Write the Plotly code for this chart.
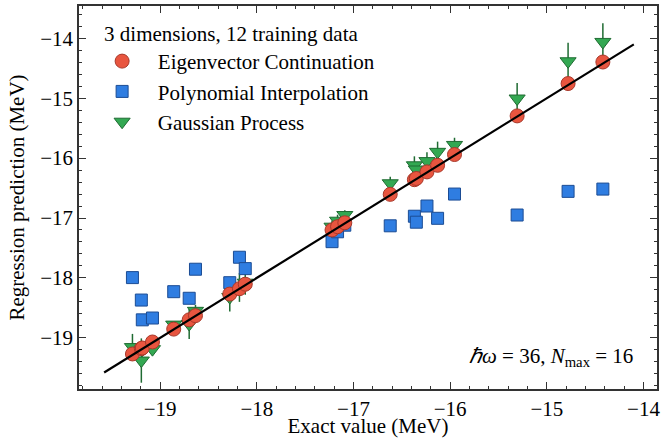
import plotly.graph_objects as go

# ---- data ----
exact = [-19.287, -19.195, -19.185, -19.08, -18.86, -18.70, -18.635, -18.28, -18.18, -18.12,
         -17.222, -17.165, -17.09, -16.62, -16.37, -16.35, -16.24, -16.13, -15.955,
         -15.307, -14.78, -14.42]
ec_pred = [-19.27, -19.18, -19.17, -19.07, -18.855, -18.70, -18.63, -18.27, -18.18, -18.105,
           -17.20, -17.145, -17.08, -16.605, -16.36, -16.34, -16.23, -16.12, -15.94,
           -15.295, -14.755, -14.395]
pi_pred = [-17.995, -18.37, -18.70, -18.67, -18.23, -18.34, -17.855, -18.08, -17.655, -17.845,
           -17.395, -17.23, -17.12, -17.13, -16.97, -17.07, -16.80, -17.005, -16.60,
           -16.95, -16.555, -16.517]
gp_pred = [-19.155, -19.38, -19.20, -19.19, -18.78, -18.77, -18.55, -18.32, -18.16, -18.08,
           -17.145, -17.045, -16.95, -16.42, -16.12, -16.19, -16.05, -15.895, -15.78,
           -15.005, -14.383, -14.06]
gp_err = [0.22, 0.37, 0.10, 0.10, 0.06, 0.25, 0.10, 0.24, 0.24, 0.20,
          0.10, 0.10, 0.08, 0.11, 0.15, 0.12, 0.15, 0.17, 0.12,
          0.26, 0.31, 0.31]
diag = [-19.58, -14.10]

x_ticks = [-19, -18, -17, -16, -15, -14]
y_ticks = [-19, -18, -17, -16, -15, -14]

FONT = "Liberation Serif"
FS = 21
PAD = "\u00a0\u00a0\u00a0"

fig = go.Figure()

fig.add_trace(go.Scatter(
    x=exact, y=gp_pred, mode="markers", name=PAD + "Gaussian Process",
    marker=dict(symbol="triangle-down", size=14, color="#33a852",
                line=dict(color="#1f6b32", width=1)),
    error_y=dict(type="data", array=gp_err, visible=True, color="#1f6b32",
                 thickness=1.5, width=0),
))
fig.add_trace(go.Scatter(
    x=exact, y=pi_pred, mode="markers", name=PAD + "Polynomial Interpolation",
    marker=dict(symbol="square", size=12, color="#2f7de1",
                line=dict(color="#1b4c94", width=1)),
))
fig.add_trace(go.Scatter(
    x=exact, y=ec_pred, mode="markers", name=PAD + "Eigenvector Continuation",
    marker=dict(symbol="circle", size=14, color="#e8553f",
                line=dict(color="#a8382a", width=1)),
))
fig.add_trace(go.Scatter(
    x=diag, y=diag, mode="lines", showlegend=False,
    line=dict(color="black", width=2.2),
))

axis_common = dict(
    showline=True, linecolor="#333", linewidth=1.5, mirror="allticks",
    ticks="inside", ticklen=7, tickwidth=1.3, tickcolor="#333",
    minor=dict(ticks="inside", ticklen=3.5, tickwidth=1, tickcolor="#333", dtick=0.2),
    showgrid=False, zeroline=False,
    tickfont=dict(family=FONT, size=FS, color="black"),
)

fig.update_xaxes(range=[-19.84, -13.86], tickvals=x_ticks,
                 title=dict(text="Exact value (MeV)", font=dict(family=FONT, size=FS, color="black"), standoff=3),
                 automargin=False, **axis_common)
fig.update_yaxes(range=[-19.855, -13.46], tickvals=y_ticks,
                 title=dict(text="Regression prediction (MeV)", font=dict(family=FONT, size=FS, color="black"), standoff=10),
                 automargin=False, **axis_common)

fig.add_annotation(
    xref="paper", yref="paper", x=0.962, y=0.0835, xanchor="right", yanchor="middle",
    text="<i>ℏω</i> = 36, <i>N</i><sub>max</sub> = 16", showarrow=False,
    font=dict(family=FONT, size=FS, color="black"),
)

fig.update_layout(
    width=670, height=438,
    margin=dict(l=79, r=13, t=6, b=49),
    paper_bgcolor="white", plot_bgcolor="white",
    font=dict(family=FONT, size=FS, color="black"),
    legend=dict(
        x=0.04, y=0.98, xanchor="left", yanchor="top",
        title=dict(text="3 dimensions, 12 training data", font=dict(family=FONT, size=FS)),
        traceorder="reversed", itemwidth=30,
        bgcolor="rgba(0,0,0,0)", font=dict(family=FONT, size=FS),
    ),
)

fig.write_html("out.html", config={"displayModeBar": False},
               post_script="document.body.style.margin='0';document.body.style.overflow='hidden';")
